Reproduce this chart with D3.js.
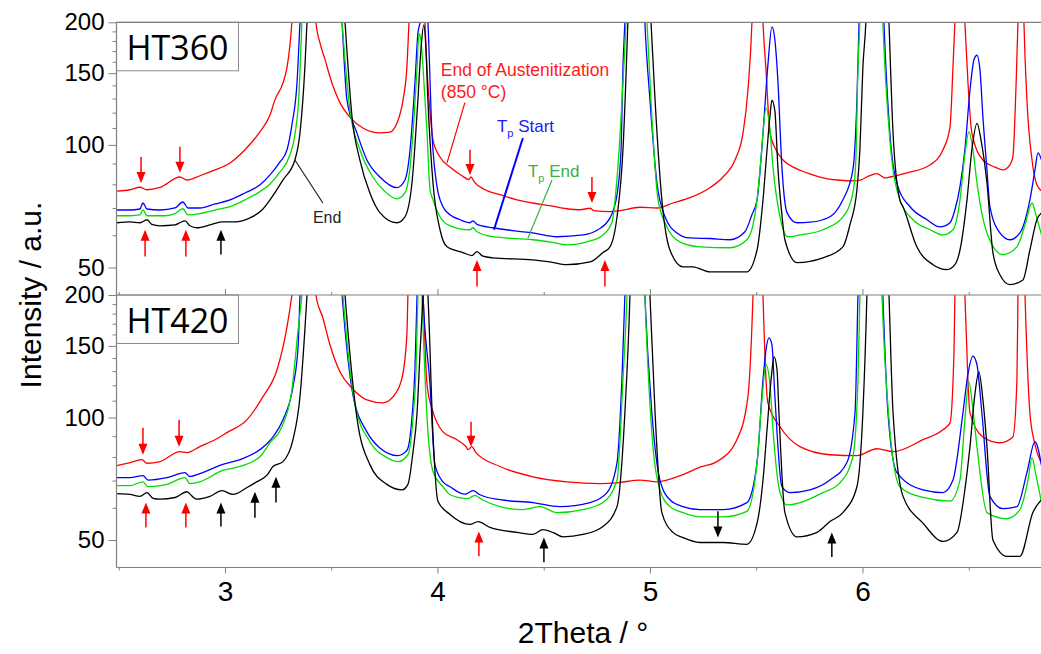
<!DOCTYPE html>
<html>
<head>
<meta charset="utf-8">
<script src="https://cdn.jsdelivr.net/npm/d3@7"></script>
<style>
body {margin:0; background:#fff;}
svg {display:block; font-family:"Liberation Sans", Arial, sans-serif;}
</style>
</head>
<body>
<div id="xrd-chart"></div>
<script>
// [2theta, intensity], HT360 panel
const ht360Red = [[2.492,77],[2.553,77.6],[2.600,78.7],[2.633,77.6],[2.694,78.6],[2.788,83.4],[2.821,82],[2.882,84],[2.953,86.8],[3.024,90.3],[3.094,97.3],[3.165,107.8],[3.212,118.4],[3.235,129],[3.273,142],[3.292,155],[3.306,176],[3.315,200],[3.40,600],[3.428,200],[3.447,178],[3.471,162],[3.494,147],[3.541,127],[3.588,117],[3.649,110],[3.729,107],[3.776,107.5],[3.809,113],[3.838,129],[3.856,155],[3.866,200],[3.90,500],[3.941,200],[3.951,153],[3.965,120.6],[3.979,102.8],[4.012,93.4],[4.059,88.2],[4.115,84],[4.148,82.2],[4.158,83.4],[4.172,81.3],[4.224,77.6],[4.294,75.5],[4.374,73.3],[4.449,72],[4.529,70.9],[4.609,69.7],[4.671,69.3],[4.718,69.9],[4.736,69],[4.812,68.6],[4.859,69],[4.953,70.3],[5.033,70],[5.108,72],[5.188,74.2],[5.282,78.5],[5.344,83.4],[5.400,91.8],[5.438,107],[5.461,136],[5.480,200],[5.505,700],[5.532,200],[5.546,153],[5.565,107],[5.593,97.3],[5.626,91.8],[5.682,87.8],[5.739,85.4],[5.800,83.4],[5.880,82],[5.974,81.6],[6.035,84],[6.068,85],[6.106,83],[6.129,83.4],[6.209,85.4],[6.318,89.3],[6.379,97.3],[6.412,110.6],[6.426,155],[6.435,200],[6.458,400],[6.482,200],[6.496,144],[6.515,107],[6.567,91.8],[6.624,88.2],[6.661,86.8],[6.694,89.3],[6.708,93.4],[6.722,136],[6.732,200],[6.746,500],[6.760,200],[6.774,129],[6.798,91.8],[6.821,79.8],[6.845,77]]
const ht360Blue = [[2.492,69.2],[2.553,69.2],[2.600,69.6],[2.614,72],[2.633,69.6],[2.694,69.2],[2.765,70],[2.802,72.4],[2.826,70],[2.882,70],[2.953,71.6],[3.024,73.3],[3.094,76.2],[3.165,79.8],[3.212,84.4],[3.259,90.8],[3.292,97.3],[3.315,112],[3.339,142],[3.353,200],[3.45,2000],[3.551,200],[3.574,129],[3.621,107],[3.668,91.8],[3.729,83.4],[3.809,78.5],[3.847,82],[3.871,97.3],[3.894,142],[3.908,188],[3.918,200],[3.935,250],[3.955,200],[3.974,107],[3.998,79],[4.026,70.5],[4.059,67.4],[4.106,65.5],[4.153,64.4],[4.167,65.1],[4.186,63.8],[4.261,62.6],[4.365,61.5],[4.449,60.8],[4.562,59.5],[4.685,60.1],[4.755,61.9],[4.812,66.2],[4.845,75.5],[4.864,97.3],[4.873,155],[4.882,200],[4.93,1500],[4.976,200],[5.000,129],[5.033,80.6],[5.071,66.6],[5.127,60.8],[5.188,59.1],[5.282,58.9],[5.376,58.5],[5.447,61.2],[5.480,67.4],[5.504,73.3],[5.532,107],[5.555,157],[5.574,195],[5.588,181],[5.602,144],[5.621,88.2],[5.645,68.2],[5.692,64.4],[5.753,64.6],[5.814,65.5],[5.871,68.2],[5.908,73.3],[5.955,86.8],[5.974,129],[5.984,200],[6.04,3000],[6.101,200],[6.129,107],[6.167,79],[6.224,70.5],[6.304,65.5],[6.365,62.9],[6.412,64.4],[6.435,69.2],[6.459,79],[6.482,97.3],[6.506,136],[6.525,162],[6.539,166],[6.553,153],[6.567,117],[6.586,86.8],[6.600,70.5],[6.647,60.8],[6.694,58.5],[6.741,60.8],[6.788,73.3],[6.812,86.8],[6.826,95.6],[6.845,91]]
const ht360Green = [[2.492,67],[2.553,67],[2.600,67.3],[2.614,69.2],[2.633,67],[2.718,67],[2.765,67.8],[2.802,69.7],[2.826,67.3],[2.882,67.8],[2.953,69.2],[3.024,70.5],[3.094,73.3],[3.165,76.8],[3.212,80.2],[3.259,85.8],[3.306,94.6],[3.329,105.8],[3.348,132.6],[3.362,200],[3.45,2000],[3.551,200],[3.588,121.8],[3.635,97.3],[3.696,83.4],[3.753,76.8],[3.809,73.7],[3.847,76.2],[3.871,88.2],[3.889,115],[3.904,155],[3.913,188],[3.922,181],[3.932,155],[3.951,107],[3.965,77.6],[3.979,73.3],[4.012,66.6],[4.059,63.3],[4.153,61.9],[4.167,62.6],[4.186,61.2],[4.261,59.5],[4.449,58.5],[4.529,57.8],[4.609,56.8],[4.718,58.1],[4.779,60.1],[4.821,64.6],[4.849,88.2],[4.873,142],[4.887,200],[4.93,1500],[4.986,200],[5.009,117],[5.038,73.3],[5.080,62.9],[5.141,57.8],[5.235,56.2],[5.376,55.9],[5.456,58.5],[5.485,63.6],[5.504,73.3],[5.522,91.8],[5.546,123],[5.565,109],[5.579,88.2],[5.612,66.6],[5.649,59.5],[5.706,60.1],[5.814,61.9],[5.908,66.6],[5.955,76.2],[5.969,91.8],[5.979,155],[5.988,200],[6.04,3000],[6.096,200],[6.129,102.8],[6.176,73.3],[6.238,65.5],[6.318,61.9],[6.379,60.1],[6.426,61.9],[6.459,73.3],[6.482,94.6],[6.501,107.6],[6.520,97.3],[6.539,80.6],[6.586,60.8],[6.661,53.8],[6.727,56.2],[6.765,63.6],[6.798,72],[6.816,67.4],[6.845,59.5]]
const ht360Black = [[2.492,64.4],[2.553,64.7],[2.600,64.4],[2.633,65.5],[2.656,63.8],[2.694,63.3],[2.765,63.6],[2.788,64.4],[2.812,65.1],[2.835,63.3],[2.868,62.6],[2.929,63.6],[2.986,64.7],[3.047,64.7],[3.118,66.2],[3.174,69.2],[3.212,73.3],[3.273,82],[3.329,91.8],[3.353,107],[3.376,155],[3.386,200],[3.46,2000],[3.565,200],[3.598,117],[3.635,91.8],[3.682,76.2],[3.729,68.2],[3.809,64.4],[3.847,66.6],[3.880,80.6],[3.908,129],[3.922,171],[3.936,197],[3.946,171],[3.955,129],[3.979,80.6],[4.012,61.9],[4.045,56.2],[4.120,54.4],[4.162,53.5],[4.186,54.7],[4.214,53.3],[4.261,52.8],[4.449,52.2],[4.529,51.6],[4.609,50.8],[4.718,51.6],[4.779,54.4],[4.812,56.2],[4.845,66.6],[4.873,97.3],[4.896,200],[4.94,1500],[5.005,200],[5.024,129],[5.056,73.3],[5.094,55.2],[5.155,50.2],[5.202,50.2],[5.282,48.8],[5.344,48.8],[5.456,48.8],[5.504,55.2],[5.532,73.3],[5.551,97.3],[5.565,118],[5.574,128.7],[5.588,121],[5.602,88.2],[5.621,67.4],[5.635,58.5],[5.692,51.4],[5.814,52.8],[5.908,56.2],[5.941,63.6],[5.974,77.6],[5.988,97.3],[6.002,155],[6.016,200],[6.06,3000],[6.125,200],[6.144,107],[6.176,73.3],[6.191,70.5],[6.256,56.2],[6.332,50.8],[6.398,49.4],[6.435,50.8],[6.459,55.2],[6.492,73.3],[6.515,97.3],[6.539,113],[6.558,102.8],[6.586,80.6],[6.614,54.4],[6.647,48],[6.694,45.4],[6.755,46.6],[6.788,55.2],[6.821,65.5],[6.845,68.2]]

// HT420 panel
const ht420Red = [[2.492,76.2],[2.553,77.5],[2.609,78.8],[2.633,77.2],[2.694,77.9],[2.788,82.4],[2.821,82],[2.882,84.8],[2.953,88.2],[3.009,91.8],[3.104,98.8],[3.179,112.5],[3.245,131],[3.292,167],[3.315,200],[3.40,600],[3.428,200],[3.461,175.6],[3.494,150.9],[3.541,129.5],[3.598,118],[3.668,110.5],[3.744,108.6],[3.791,112.5],[3.833,125],[3.856,159.6],[3.861,200],[3.90,400],[3.932,200],[3.951,120.4],[3.979,103.2],[4.026,92.2],[4.092,88.2],[4.134,84.8],[4.144,83.4],[4.162,84.8],[4.181,82],[4.294,75.8],[4.449,71.5],[4.609,69.5],[4.765,68.8],[4.845,69.1],[4.953,70.2],[5.033,69.5],[5.155,72.4],[5.235,75.5],[5.315,77.9],[5.409,88.2],[5.461,112.5],[5.485,200],[5.51,700],[5.532,200],[5.555,108.6],[5.612,94.9],[5.706,84.8],[5.847,81],[5.974,80.6],[6.068,83.8],[6.144,82.4],[6.285,88.2],[6.379,93.3],[6.412,97],[6.431,146.6],[6.435,200],[6.458,400],[6.482,200],[6.506,102.7],[6.567,89.6],[6.647,86.7],[6.708,89.6],[6.727,123.8],[6.732,200],[6.746,500],[6.765,200],[6.788,102.7],[6.812,85.8],[6.845,76.6]]
const ht420Blue = [[2.492,71.2],[2.553,71.2],[2.614,72],[2.638,70.2],[2.727,71.2],[2.812,73.2],[2.835,71.6],[2.882,72.8],[2.986,76.6],[3.071,78.8],[3.165,83.4],[3.226,89.6],[3.273,98.8],[3.320,119],[3.344,149],[3.353,200],[3.45,2000],[3.551,200],[3.602,113.8],[3.668,92.2],[3.729,84.2],[3.814,80.6],[3.856,83],[3.880,99.8],[3.894,131],[3.904,200],[3.92,300],[3.932,200],[3.965,120.4],[3.988,76.6],[4.026,69.5],[4.059,67.6],[4.129,64.8],[4.167,66.1],[4.200,64.6],[4.294,62.8],[4.449,61.8],[4.576,60.4],[4.718,61.8],[4.798,65.4],[4.845,77.5],[4.868,123.8],[4.882,200],[4.93,1500],[4.976,200],[5.009,102.7],[5.047,70.2],[5.094,62.8],[5.155,60.4],[5.235,59.4],[5.344,59.4],[5.456,61.8],[5.504,77.5],[5.532,123.8],[5.546,146.6],[5.560,157],[5.574,151],[5.588,112.5],[5.621,67.6],[5.659,65.4],[5.753,66.4],[5.847,70.2],[5.927,77.5],[5.965,102.7],[5.979,200],[6.04,3000],[6.096,200],[6.120,102.7],[6.162,73.2],[6.285,66.4],[6.379,65.4],[6.426,70.2],[6.473,102.7],[6.496,127.4],[6.520,141.6],[6.539,134.8],[6.562,102.7],[6.600,64],[6.661,59.7],[6.727,60.4],[6.774,73.2],[6.812,87.2],[6.845,75]]
const ht420Green = [[2.492,68],[2.553,68],[2.614,69.5],[2.638,67.6],[2.727,68.5],[2.812,71.2],[2.835,68.8],[2.882,69.5],[2.986,74],[3.071,75.8],[3.165,80.2],[3.212,86.7],[3.268,94.9],[3.315,117],[3.344,164],[3.362,200],[3.45,2000],[3.555,200],[3.612,107.5],[3.682,87.2],[3.762,79.7],[3.814,77.9],[3.861,81],[3.885,99.8],[3.899,131],[3.908,200],[3.918,280],[3.927,200],[3.951,99.8],[3.979,73.7],[4.026,67.6],[4.059,64.6],[4.143,63.2],[4.176,64.4],[4.209,62.9],[4.294,60.4],[4.402,59.4],[4.482,60.4],[4.562,58.4],[4.685,59.4],[4.779,61.8],[4.845,70.2],[4.873,123.8],[4.892,200],[4.93,1500],[4.976,200],[5.014,84.8],[5.047,66.4],[5.094,60.4],[5.155,58.4],[5.235,57],[5.344,57],[5.456,58.8],[5.504,77.5],[5.527,110.5],[5.546,134.8],[5.565,120.4],[5.579,93.3],[5.612,65.4],[5.645,61],[5.814,65.4],[5.894,69.1],[5.955,80.2],[5.979,123.8],[5.988,200],[6.04,3000],[6.092,200],[6.129,93.3],[6.176,67.6],[6.285,63.6],[6.412,62.3],[6.459,70.2],[6.482,98.8],[6.501,122.4],[6.520,104.4],[6.539,84.8],[6.586,58.4],[6.680,56.4],[6.741,59.4],[6.779,70.2],[6.798,79.7],[6.816,72.4],[6.845,61]]
const ht420Black = [[2.492,65],[2.553,64.7],[2.600,64],[2.633,65.4],[2.661,63.3],[2.694,63],[2.765,63.6],[2.821,65.7],[2.845,64.1],[2.868,63],[2.929,64],[2.986,66.1],[3.038,64.7],[3.104,67.3],[3.141,69.1],[3.200,72.4],[3.226,75.8],[3.273,77.9],[3.320,88.2],[3.353,112.5],[3.376,164],[3.386,200],[3.46,2000],[3.565,200],[3.621,99.8],[3.682,76.6],[3.762,68.5],[3.833,66.4],[3.861,68.5],[3.885,82.4],[3.904,102.7],[3.918,144.6],[3.932,200],[3.94,250],[3.955,200],[3.979,90.6],[4.002,62.3],[4.059,57.8],[4.153,54.6],[4.191,55.5],[4.247,53.7],[4.374,52.2],[4.449,51.6],[4.496,53],[4.543,52.2],[4.591,50.9],[4.685,51.6],[4.779,54],[4.845,60.4],[4.882,102.7],[4.906,200],[4.94,1500],[5.000,200],[5.024,102.7],[5.056,58.4],[5.108,52.2],[5.155,50.7],[5.235,49.3],[5.344,49.3],[5.456,48.8],[5.504,55],[5.532,70.2],[5.551,93.3],[5.570,123.8],[5.584,141],[5.598,131],[5.607,102.7],[5.635,58.4],[5.692,50.9],[5.786,52.2],[5.847,55.5],[5.908,58.4],[5.974,67.6],[6.002,102.7],[6.021,200],[6.06,3000],[6.125,200],[6.144,102.7],[6.191,64],[6.285,55],[6.379,49.6],[6.445,52.2],[6.482,66.4],[6.506,84.8],[6.529,113.8],[6.548,129.5],[6.567,110.5],[6.586,84.8],[6.614,50],[6.680,45.6],[6.741,45.6],[6.802,58.4],[6.845,63]]

// arrows: [2theta, tip, tail, colour]
const ht360Arrows = [[2.605,80.6,93.4,"red"],[2.788,85.4,99,"red"],[2.624,61.9,53.2,"red"],[2.816,61.9,53.2,"red"],[2.981,61.9,53.8,"black"],[4.153,84.4,97.3,"red"],[4.727,72,83.4,"red"],[4.186,52.2,44.9,"red"],[4.788,52.2,44.9,"red"]]
const ht420Arrows = [[2.614,81,94.4,"red"],[2.784,84.8,98.8,"red"],[2.628,61.8,53.7,"red"],[2.816,61.8,53.7,"red"],[2.981,61.8,54,"black"],[3.141,65.7,56.7,"black"],[3.240,71.5,61.8,"black"],[4.158,84.8,97.6,"red"],[4.195,52.5,45.6,"red"],[4.501,50.7,44.1,"black"],[5.320,50.7,58.8,"black"],[5.856,52.2,45.4,"black"]]

const xMajor = [3,4,5,6]
const xMinor = [2.5,3.5,4.5,5.5,6.5]
const yMajor = [50,100,150,200]
const yMinor = [60,70,80,90,110,120,130,140,160,170,180,190]
const seriesColors = ["#ff0000","#0000ff","#00dd00","#000000"]

const width = 1041, height = 654
const left = 116.5, right = 1041

const svg = d3.select("#xrd-chart").append("svg")
    .attr("width", width)
    .attr("height", height)

const x = d3.scaleLinear().domain([2.49, 6.845]).range([116.6, 1042])
const yTop = d3.scaleLog().domain([42.8, 200]).range([295, 22.3])
const yBot = d3.scaleLog().domain([42.8, 200]).range([567.5, 295])

const defs = svg.append("defs")

function drawPanel(name, y, series, arrows) {
    const r = y.range()
    defs.append("clipPath").attr("id", "clip-" + name)
        .append("rect")
        .attr("x", left).attr("y", r[1])
        .attr("width", right - left).attr("height", r[0] - r[1])

    const g = svg.append("g").attr("clip-path", "url(#clip-" + name + ")")

    const line = d3.line()
        .x(function(d){return x(d[0]);})
        .y(function(d){return y(d[1]);})
        .curve(d3.curveMonotoneX)

    series.forEach(function(s, i) {
        g.append("path")
            .attr("d", line(s))
            .attr("fill", "none")
            .attr("stroke", seriesColors[i])
            .attr("stroke-width", 1.3)
    })

    arrows.forEach(function(a) {
        const ax = x(a[0]), tip = y(a[1]), tail = y(a[2])
        const dir = tip > tail ? 1 : -1
        const col = a[3] == "red" ? "#ff0000" : "#000"
        g.append("line")
            .attr("x1", ax).attr("x2", ax)
            .attr("y1", tail).attr("y2", tip - dir * 9)
            .attr("stroke", col).attr("stroke-width", 1.5)
        g.append("path")
            .attr("d", "M" + (ax - 4.5) + "," + (tip - dir * 11) + "L" + (ax + 4.5) + "," + (tip - dir * 11) + "L" + ax + "," + tip + "Z")
            .attr("fill", col)
    })

    // panel label box
    svg.append("rect")
        .attr("x", left).attr("y", r[1])
        .attr("width", 122).attr("height", 48.5)
        .attr("fill", "#fff").attr("stroke", "#8c8c8c")
    svg.append("text")
        .attr("x", left + 61).attr("y", r[1] + 37.5)
        .attr("text-anchor", "middle")
        .style("font-family", "'Open Sans', sans-serif")
        .style("font-size", "34px")
        .text(name)

    // y axis
    const yAx = svg.append("g")
        .attr("transform", "translate(" + left + ",0)")
        .call(d3.axisLeft(y).tickValues(yMajor).tickSize(8).tickPadding(4).tickFormat(d3.format("d")))
    yAx.select(".domain").remove()
    yAx.selectAll("text").style("font-size", "24px").style("font-family", "'Liberation Sans', Arial, sans-serif").attr("fill", "#000")
    yAx.selectAll("line").attr("stroke", "#808080")

    const yMin = svg.append("g")
        .attr("transform", "translate(" + left + ",0)")
        .call(d3.axisLeft(y).tickValues(yMinor).tickSize(4).tickFormat(""))
    yMin.select(".domain").remove()
    yMin.selectAll("line").attr("stroke", "#808080")
}

drawPanel("HT360", yTop, [ht360Red, ht360Blue, ht360Green, ht360Black], ht360Arrows)
drawPanel("HT420", yBot, [ht420Red, ht420Blue, ht420Green, ht420Black], ht420Arrows)

// frame lines
const frame = svg.append("g").attr("stroke", "#808080").attr("stroke-width", 1.2)
frame.append("line").attr("x1", left).attr("x2", left).attr("y1", 22.3).attr("y2", 567.5)
;[22.3, 295, 567.5].forEach(function(yy) {
    frame.append("line").attr("x1", left).attr("x2", right).attr("y1", yy).attr("y2", yy)
})

// x axes
const xAxis = svg.append("g")
    .attr("transform", "translate(0,567.5)")
    .call(d3.axisBottom(x).tickValues(xMajor).tickSize(6).tickPadding(8).tickFormat(d3.format("d")))
xAxis.select(".domain").remove()
xAxis.selectAll("text").style("font-size", "28px").style("font-family", "'Liberation Sans', Arial, sans-serif").attr("fill", "#000")
xAxis.selectAll("line").attr("stroke", "#808080")

const xMin = svg.append("g")
    .attr("transform", "translate(0,567.5)")
    .call(d3.axisBottom(x).tickValues(xMinor).tickSize(3).tickFormat(""))
xMin.select(".domain").remove()
xMin.selectAll("line").attr("stroke", "#808080")

const xMid = svg.append("g")
    .attr("transform", "translate(0,295)")
    .call(d3.axisTop(x).tickValues(xMajor).tickSize(6).tickFormat(""))
xMid.select(".domain").remove()
xMid.selectAll("line").attr("stroke", "#808080")
const xMidMin = svg.append("g")
    .attr("transform", "translate(0,295)")
    .call(d3.axisTop(x).tickValues(xMinor).tickSize(3).tickFormat(""))
xMidMin.select(".domain").remove()
xMidMin.selectAll("line").attr("stroke", "#808080")

// axis titles
svg.append("text")
    .attr("transform", "translate(41,295) rotate(-90)")
    .attr("text-anchor", "middle")
    .style("font-size", "30px")
    .text("Intensity / a.u.")

svg.append("text")
    .attr("x", 583).attr("y", 643)
    .attr("text-anchor", "middle")
    .style("font-size", "30px")
    .text("2Theta / °")

// annotations in the HT360 panel
const notes = svg.append("g")
notes.append("text").attr("x", x(4.016)).attr("y", yTop(147.6))
    .attr("fill", "#ff1a1a").style("font-size", "17.5px").text("End of Austenitization")
notes.append("text").attr("x", x(4.016)).attr("y", yTop(130.4))
    .attr("fill", "#ff1a1a").style("font-size", "17.5px").text("(850 °C)")
notes.append("line")
    .attr("x1", x(4.129)).attr("y1", yTop(127)).attr("x2", x(4.045)).attr("y2", yTop(90.3))
    .attr("stroke", "#ff0000").attr("stroke-width", 1.2)

const tpStart = notes.append("text").attr("x", x(4.280)).attr("y", yTop(107.6))
    .attr("fill", "#1a1aff").style("font-size", "17px")
tpStart.append("tspan").text("T")
tpStart.append("tspan").attr("dy", 5).style("font-size", "11px").text("p")
tpStart.append("tspan").attr("dy", -5).text(" Start")
notes.append("line")
    .attr("x1", x(4.402)).attr("y1", yTop(104)).attr("x2", x(4.266)).attr("y2", yTop(61.9))
    .attr("stroke", "#0000ff").attr("stroke-width", 2)

const tpEnd = notes.append("text").attr("x", x(4.426)).attr("y", yTop(83.4))
    .attr("fill", "#3cb043").style("font-size", "17px")
tpEnd.append("tspan").text("T")
tpEnd.append("tspan").attr("dy", 5).style("font-size", "11px").text("p")
tpEnd.append("tspan").attr("dy", -5).text(" End")
notes.append("line")
    .attr("x1", x(4.539)).attr("y1", yTop(82)).attr("x2", x(4.426)).attr("y2", yTop(59.1))
    .attr("stroke", "#3cb043").attr("stroke-width", 1.2)

notes.append("text").attr("x", x(3.414)).attr("y", yTop(64.4))
    .attr("fill", "#222").style("font-size", "16px").text("End")
notes.append("line")
    .attr("x1", x(3.329)).attr("y1", yTop(91.8)).attr("x2", x(3.461)).attr("y2", yTop(72))
    .attr("stroke", "#222").attr("stroke-width", 1.2)
</script>
</body>
</html>
